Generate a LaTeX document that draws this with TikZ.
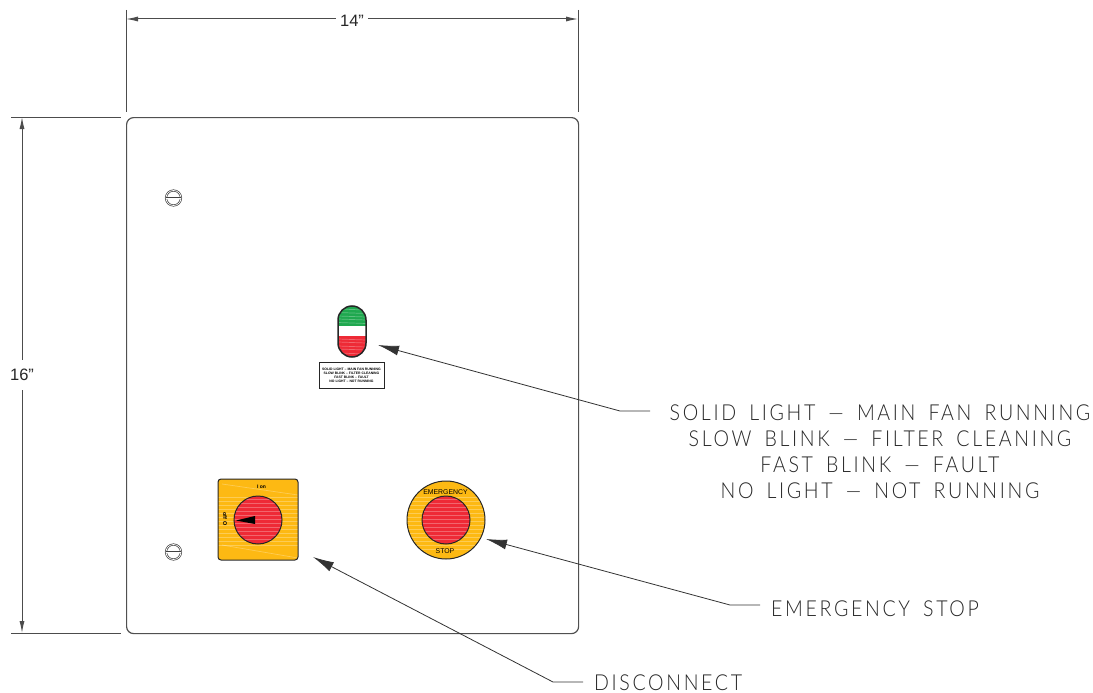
\documentclass[tikz,border=0pt]{standalone}
\usepackage{fontspec}
\setmainfont{Liberation Sans}
\newfontfamily\callfont[LetterSpace=12,FakeStretch=.89,WordSpace=1.65]{Lato Light}
\usetikzlibrary{arrows.meta}
\definecolor{ln}{HTML}{505050}
\definecolor{amberc}{HTML}{FDB913}
\definecolor{redc}{HTML}{EE2A36}
\definecolor{greenc}{HTML}{1FA84F}
\tikzset{
  x=1pt,y=-1pt,
  >={Latex[length=12pt,width=5pt]},
  thinln/.style={draw=ln,line width=1.2pt},
  dimln/.style={draw=black!70,line width=1pt},
  leader/.style={draw=black!80,line width=.8pt,-{Latex[length=21pt,width=10pt]}},
  dimtext/.style={font=\fontsize{16.5}{16.5}\selectfont,inner sep=0pt,text=black!85},
  calltext/.style={font=\fontsize{22}{26}\selectfont\callfont,inner sep=0pt,text=black!85,align=center},
  streak/.style={draw=white,line width=.7pt,opacity=.28},
  screw/.style={circle,draw=black!75,line width=.7pt,double=white,double distance=.7pt,minimum size=15pt,inner sep=0pt},
}
\begin{document}
\begin{tikzpicture}
\useasboundingbox (0,0) rectangle (1093,693);
% panel
\node[thinln,rounded corners=7pt,minimum width=452pt,minimum height=516pt,inner sep=0pt,anchor=north west] (panel) at (126,117) {};
% extension lines
\coordinate (t1a) at (126,10); \coordinate (t1b) at (126,112);
\coordinate (t2a) at (578,10); \coordinate (t2b) at (578,112);
\coordinate (l1a) at (11,117); \coordinate (l1b) at (121,117);
\coordinate (l2a) at (11,633); \coordinate (l2b) at (121,633);
\draw[dimln] (t1a)--(t1b); \draw[dimln] (t2a)--(t2b);
\draw[dimln] (l1a)--(l1b); \draw[dimln] (l2a)--(l2b);
% dimensions
\coordinate (dt1) at (126,19); \coordinate (dt2) at (578,19);
\coordinate (dl1) at (22,117); \coordinate (dl2) at (22,633);
\node[dimtext,minimum width=32pt] (w) at (352,21) {14"};
\node[dimtext,minimum height=30pt] (h) at (22,375) {16"};
\draw[dimln,<-] (dt1)--(dt1-|w.west);
\draw[dimln,->] (dt1-|w.east)--(dt2);
\draw[dimln,<-] (dl1)--(h.north);
\draw[dimln,->] (h.south)--(dl2);
% screws
\node[screw] (s1) at (173.500,198) {}; \draw[line width=.7pt,double=white,double distance=.6pt,black!75] (s1.west)--(s1.east);
\node[screw] (s2) at (173.500,552) {}; \draw[line width=.7pt,double=white,double distance=.6pt,black!75] (s2.west)--(s2.east);
% pilot light
\begin{scope}
\clip[rounded corners=14pt] (338,306) rectangle (366,357);
\fill[greenc] (338,306) rectangle (366,326);
\fill[white] (338,326) rectangle (366,336);
\fill[redc] (338,336) rectangle (366,357);
\foreach \y in {309,312.500,316,319,322.500,339,342,346,349,353}
  \draw[streak] (338,\y)--(366,\y+1);
\end{scope}
\draw[line width=1.5pt,black!85,rounded corners=14pt] (338,306) rectangle (366,357);
\node[draw=black!85,line width=.8pt,minimum width=65pt,minimum height=26pt,inner sep=0pt,align=center,
  font=\fontsize{3.4}{4}\selectfont\bfseries] (plate) at (351.500,375) {SOLID LIGHT -- MAIN FAN RUNNING\\SLOW BLINK -- FILTER CLEANING\\FAST BLINK -- FAULT\\NO LIGHT -- NOT RUNNING};
% disconnect
\begin{scope}
\clip[rounded corners=3pt] (218,479) rectangle (298,560);
\fill[amberc] (218,479) rectangle (298,560);
\foreach \y in {497,501,505,509,513,517,521,525,529,533,537,541,545}
  \draw[streak] (218,\y)--(298,\y);
\draw[streak] (222,484)--(298,495);
\draw[streak] (222,545)--(298,558);
\end{scope}
\draw[line width=1pt,black!85,rounded corners=3pt] (218,479) rectangle (298,560);
\node[circle,draw=black!85,fill=redc,line width=1pt,minimum size=48pt,inner sep=0pt] (knob) at (258,520) {};
\begin{scope}
\clip (258,520) circle (23.500);
\foreach \y in {499,503,507,511,515,519,523,527,531,535,539}
  \draw[streak] (234,\y)--(282,\y);
\end{scope}
\fill[black] (236,520.500)--(255,516)--(255,524)--cycle;
\node[inner sep=0pt,font=\fontsize{5}{5}\selectfont\bfseries] (onl) at (261.500,487) {I on};
\node[inner sep=0pt,rotate=-90,font=\fontsize{5.500}{5}\selectfont\bfseries] (offl) at (225,519) {off O};
% estop
\node[circle,draw=black!85,fill=amberc,line width=1pt,minimum size=78pt,inner sep=0pt] (ering) at (446,520) {};
\begin{scope}
\clip (446,520) circle (38.500);
\foreach \y in {497,501,505,509,513,517,521,525,529,533,537,541,545,549}
  \draw[streak] (407,\y)--(485,\y);
\end{scope}
\node[circle,draw=black!85,fill=redc,line width=1pt,minimum size=48pt,inner sep=0pt] (ebtn) at (446,520) {};
\begin{scope}
\clip (446,520) circle (23.500);
\foreach \y in {499,503,507,511,515,519,523,527,531,535,539}
  \draw[streak] (422,\y)--(470,\y);
\end{scope}
\node[inner sep=0pt,font=\fontsize{6.900}{7}\selectfont] (etop) at (445.500,492) {EMERGENCY};
\node[inner sep=0pt,font=\fontsize{6.900}{7}\selectfont] (ebot) at (445,551) {STOP};
% callouts
\node[calltext] (status) at (880,452) {SOLID LIGHT — MAIN FAN RUNNING\\SLOW BLINK — FILTER CLEANING\\FAST BLINK — FAULT\\NO LIGHT — NOT RUNNING};
\node[calltext,anchor=west] (estext) at (771,609) {EMERGENCY STOP};
\node[calltext,anchor=west] (dctext) at (594,683) {DISCONNECT};
\coordinate (c1) at (650,411); \coordinate (c1k) at (620,411); \coordinate (c1t) at (378,345);
\coordinate (c2) at (760,605); \coordinate (c2k) at (730,605); \coordinate (c2t) at (486,539);
\coordinate (c3) at (583,682); \coordinate (c3k) at (553,682); \coordinate (c3t) at (313,557);
\draw[leader] (c1)--(c1k)--(c1t);
\draw[leader] (c2)--(c2k)--(c2t);
\draw[leader] (c3)--(c3k)--(c3t);
\end{tikzpicture}
\end{document}
